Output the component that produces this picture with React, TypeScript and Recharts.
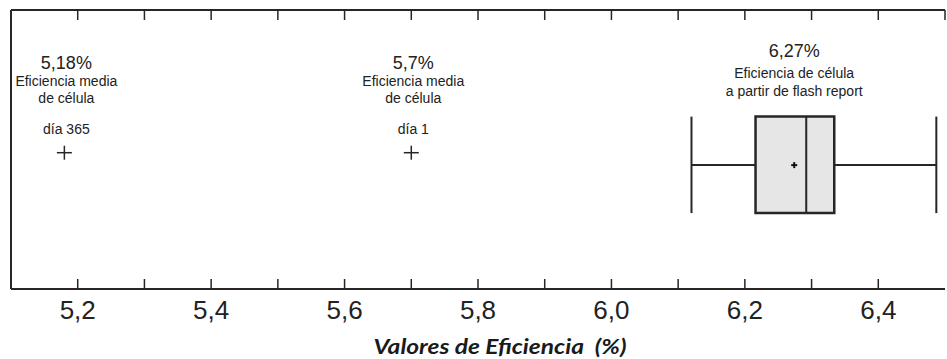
import { ComposedChart, XAxis, YAxis, Scatter, ReferenceArea, ReferenceLine, Label, CartesianGrid } from 'recharts'

// x axis
const X_DOMAIN = [5.1, 6.5]
const TICKS = [5.2, 5.3, 5.4, 5.5, 5.6, 5.7, 5.8, 5.9, 6.0, 6.1, 6.2, 6.3, 6.4]
const LABELLED_TICKS = [5.2, 5.4, 5.6, 5.8, 6.0, 6.2, 6.4]
const AXIS_TITLE = 'Valores de Eficiencia  (%)'

// single-value estimates
const POINT_VALUES = [5.18, 5.7]
const POINT_TITLES = ['5,18%', '5,7%']
const POINT_CAPTIONS = [
  ['Eficiencia media', 'de célula'],
  ['Eficiencia media', 'de célula'],
]
const POINT_DAYS = ['día 365', 'día 1']

// flash report distribution
const WHISKER_LOW = 6.12
const Q1 = 6.216
const MEDIAN = 6.292
const Q3 = 6.334
const WHISKER_HIGH = 6.487
const MEAN = 6.274
const BOX_TITLE = '6,27%'
const BOX_CAPTION = ['Eficiencia de célula', 'a partir de flash report']

// vertical layout (hidden y scale 0..100)
const Y_TOP = 100
const POINT_Y = 48.85
const BOX_MID = 44.4
const BOX_LOW = 27.2
const BOX_HIGH = 61.8

const INK = '#262626'
const FONT = '"Liberation Sans", Arial, sans-serif'

const pointData = POINT_VALUES.map((v, i) => ({
  x: v,
  y: POINT_Y,
  title: POINT_TITLES[i],
  caption: POINT_CAPTIONS[i],
  day: POINT_DAYS[i],
}))

const meanData = [{ x: MEAN, y: BOX_MID, title: BOX_TITLE, caption: BOX_CAPTION }]

// inward ticks along the top frame
const topTickData = [...TICKS, X_DOMAIN[1]].map((t) => ({ x: t, y: Y_TOP }))

const PointShape = (props: any) => {
  const { cx, cy, payload } = props
  const tx = cx + 2
  return (
    <g>
      <line x1={cx - 7.5} x2={cx + 7.5} y1={cy} y2={cy} stroke={INK} strokeWidth={1.5} />
      <line x1={cx} x2={cx} y1={cy - 7} y2={cy + 7} stroke={INK} strokeWidth={1.5} />
      <text x={tx} y={cy - 84} textAnchor="middle" fontSize={18} fill="#222" fontFamily={FONT}>{payload.title}</text>
      <text x={tx} y={cy - 67} textAnchor="middle" fontSize={14} fill="#222" fontFamily={FONT}>{payload.caption[0]}</text>
      <text x={tx} y={cy - 50} textAnchor="middle" fontSize={14} fill="#222" fontFamily={FONT}>{payload.caption[1]}</text>
      <text x={tx} y={cy - 19} textAnchor="middle" fontSize={14} fill="#222" fontFamily={FONT}>{payload.day}</text>
    </g>
  )
}

const MeanShape = (props: any) => {
  const { cx, cy, payload } = props
  return (
    <g>
      <line x1={cx - 3} x2={cx + 3} y1={cy} y2={cy} stroke="#111" strokeWidth={2} />
      <line x1={cx} x2={cx} y1={cy - 3} y2={cy + 3} stroke="#111" strokeWidth={2} />
      <text x={cx} y={cy - 108} textAnchor="middle" fontSize={18} fill="#222" fontFamily={FONT}>{payload.title}</text>
      <text x={cx} y={cy - 87} textAnchor="middle" fontSize={14} fill="#222" fontFamily={FONT}>{payload.caption[0]}</text>
      <text x={cx} y={cy - 69} textAnchor="middle" fontSize={14} fill="#222" fontFamily={FONT}>{payload.caption[1]}</text>
    </g>
  )
}

const TopTick = (props: any) => {
  const { cx, cy } = props
  return <line x1={cx} x2={cx} y1={cy} y2={cy + 10} stroke={INK} strokeWidth={1.5} />
}

const AxisTitle = (props: any) => {
  const vb = props.viewBox
  const cx = vb.x + vb.width / 2 + 22
  return (
    <text
      x={cx}
      y={vb.y + 65}
      textAnchor="middle"
      fontSize={21}
      fontWeight="bold"
      fontStyle="italic"
      fill="#1a1a1a"
      fontFamily='Lato, "Open Sans", sans-serif'
      textLength={253}
      lengthAdjust="spacingAndGlyphs"
      xmlSpace="preserve"
      style={{ whiteSpace: 'pre' }}
    >
      {AXIS_TITLE}
    </text>
  )
}

const formatTick = (v: number) =>
  LABELLED_TICKS.some((t) => Math.abs(t - v) < 1e-6) ? v.toFixed(1).replace('.', ',') : ''

const lineStyle = { stroke: INK, strokeWidth: 2 }

export default function App() {
  return (
    <div style={{ width: 947, height: 359, background: '#fff' }}>
      <style>{'body{margin:0}'}</style>
      <ComposedChart width={947} height={359} margin={{ top: 10, right: 2, left: 10, bottom: 0 }}>
        <CartesianGrid
          vertical={false}
          horizontalValues={[Y_TOP]}
          stroke={INK}
          strokeWidth={2}
          strokeDasharray=""
        />
        <XAxis
          type="number"
          dataKey="x"
          domain={X_DOMAIN}
          ticks={TICKS}
          height={70}
          tickSize={-10}
          tickMargin={22}
          tickFormatter={formatTick}
          axisLine={{ stroke: INK, strokeWidth: 2 }}
          tickLine={{ stroke: INK, strokeWidth: 1.5 }}
          tick={{ fill: '#222', fontSize: 26, fontFamily: FONT }}
          interval={0}
        >
          <Label content={AxisTitle} />
        </XAxis>
        <YAxis
          type="number"
          dataKey="y"
          domain={[0, Y_TOP]}
          width={1}
          tick={false}
          tickLine={false}
          axisLine={{ stroke: INK, strokeWidth: 2 }}
        />
        <ReferenceLine y={Y_TOP} stroke={INK} strokeWidth={2} />
        <ReferenceLine segment={[{ x: WHISKER_LOW, y: BOX_MID }, { x: Q1, y: BOX_MID }]} {...lineStyle} />
        <ReferenceLine segment={[{ x: Q3, y: BOX_MID }, { x: WHISKER_HIGH, y: BOX_MID }]} {...lineStyle} />
        <ReferenceLine segment={[{ x: WHISKER_LOW, y: BOX_LOW }, { x: WHISKER_LOW, y: BOX_HIGH }]} {...lineStyle} />
        <ReferenceLine segment={[{ x: WHISKER_HIGH, y: BOX_LOW }, { x: WHISKER_HIGH, y: BOX_HIGH }]} {...lineStyle} />
        <ReferenceArea
          x1={Q1}
          x2={Q3}
          y1={BOX_LOW}
          y2={BOX_HIGH}
          fill="#e6e6e6"
          fillOpacity={1}
          stroke={INK}
          strokeWidth={2.5}
        />
        <ReferenceLine segment={[{ x: MEDIAN, y: BOX_LOW }, { x: MEDIAN, y: BOX_HIGH }]} {...lineStyle} />
        <Scatter data={topTickData} shape={TopTick} isAnimationActive={false} />
        <Scatter data={pointData} shape={PointShape} isAnimationActive={false} />
        <Scatter data={meanData} shape={MeanShape} isAnimationActive={false} />
      </ComposedChart>
    </div>
  )
}
